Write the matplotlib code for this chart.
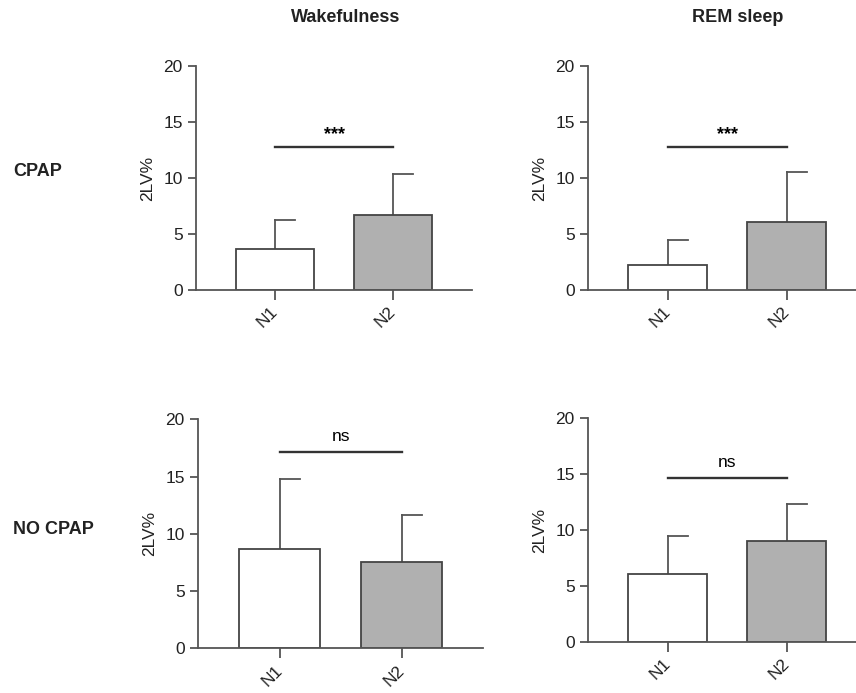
import numpy as np
import matplotlib
matplotlib.use("Agg")
import matplotlib.pyplot as plt

plt.rcParams['font.family'] = ['Liberation Sans', 'DejaVu Sans']

# Data (mean, SD)
groups = ['N1', 'N2']
cpap_wake_mean = [3.65, 6.7]
cpap_wake_sd = [2.6, 3.65]
cpap_rem_mean = [2.25, 6.05]
cpap_rem_sd = [2.2, 4.45]
nocpap_wake_mean = [8.7, 7.5]
nocpap_wake_sd = [6.05, 4.1]
nocpap_rem_mean = [6.1, 9.0]
nocpap_rem_sd = [3.4, 3.3]

col_titles = ['Wakefulness', 'REM sleep']
row_titles = ['CPAP', 'NO CPAP']
sig_labels = ['***', '***', 'ns', 'ns']
sig_heights = [12.75, 12.8, 17.15, 14.65]

bar_colors = ['white', '#b0b0b0']
edge = '#444444'
axis_col = '#555555'

W, H = 856, 693
fig = plt.figure(figsize=(W / 100, H / 100), dpi=100)

# axes boxes in pixels: left, y of zero, y of 20, px per category unit
boxes = [
    (196, 290, 66, 118),
    (588, 290, 66, 119),
    (198, 648.3, 419.3, 122),
    (588, 641.7, 418.3, 119),
]
xmin, xmax = -0.67, 1.67

panels = [
    (cpap_wake_mean, cpap_wake_sd),
    (cpap_rem_mean, cpap_rem_sd),
    (nocpap_wake_mean, nocpap_wake_sd),
    (nocpap_rem_mean, nocpap_rem_sd),
]

x = np.arange(len(groups))
for i, (means, sds) in enumerate(panels):
    left, y0, y20, ppu = boxes[i]
    ax = fig.add_axes([left / W, (H - y0) / H, (xmax - xmin) * ppu / W, (y0 - y20) / H])
    ax.set_xlim(xmin, xmax)
    ax.set_ylim(0, 20)

    # error bars: vertical line plus a cap to the right only (Prism style)
    for xi, m, s in zip(x, means, sds):
        ax.plot([xi, xi], [m, m + s], color=axis_col, lw=1.3, zorder=1)
        ax.plot([xi, xi + 0.17], [m + s, m + s], color=axis_col, lw=1.3, zorder=1)
    ax.bar(x, means, width=0.66, color=bar_colors, edgecolor=edge, linewidth=1.3, zorder=2)

    # significance bar
    h = sig_heights[i]
    ax.plot([x[0], x[1]], [h, h], color='#333333', lw=1.7)
    if sig_labels[i] == 'ns':
        ax.text(0.5, h + 0.7, 'ns', ha='center', va='bottom', fontsize=12.5)
    else:
        ax.text(0.5, h + 0.35, '***', ha='center', va='bottom', fontsize=13, fontweight='bold')

    for sp in ['top', 'right']:
        ax.spines[sp].set_visible(False)
    for sp in ['left', 'bottom']:
        ax.spines[sp].set_color(axis_col)
        ax.spines[sp].set_linewidth(1.3)
    ax.set_yticks([0, 5, 10, 15, 20])
    ax.set_xticks(x)
    ax.set_xticklabels(groups, rotation=45, ha='right', va='center', rotation_mode='anchor')
    ax.tick_params(axis='both', colors=axis_col, width=1.3, length=6, labelsize=12.5,
                   labelcolor='#222222')
    ax.tick_params(axis='x', length=7, pad=7)
    ax.set_ylabel('2LV%', fontsize=12.5, color='#222222', labelpad=6)
    ax.patch.set_alpha(0)

# column and row titles
fig.text(346 / W, 1 - 18 / H, col_titles[0], ha='center', va='center', fontsize=13, fontweight='bold', color='#222222')
fig.text(738 / W, 1 - 18 / H, col_titles[1], ha='center', va='center', fontsize=13, fontweight='bold', color='#222222')
fig.text(13 / W, 1 - 171 / H, row_titles[0], ha='left', va='center', fontsize=13, fontweight='bold', color='#222222')
fig.text(13 / W, 1 - 530 / H, row_titles[1], ha='left', va='center', fontsize=13, fontweight='bold', color='#222222')

fig.savefig('out.png', dpi=100)
